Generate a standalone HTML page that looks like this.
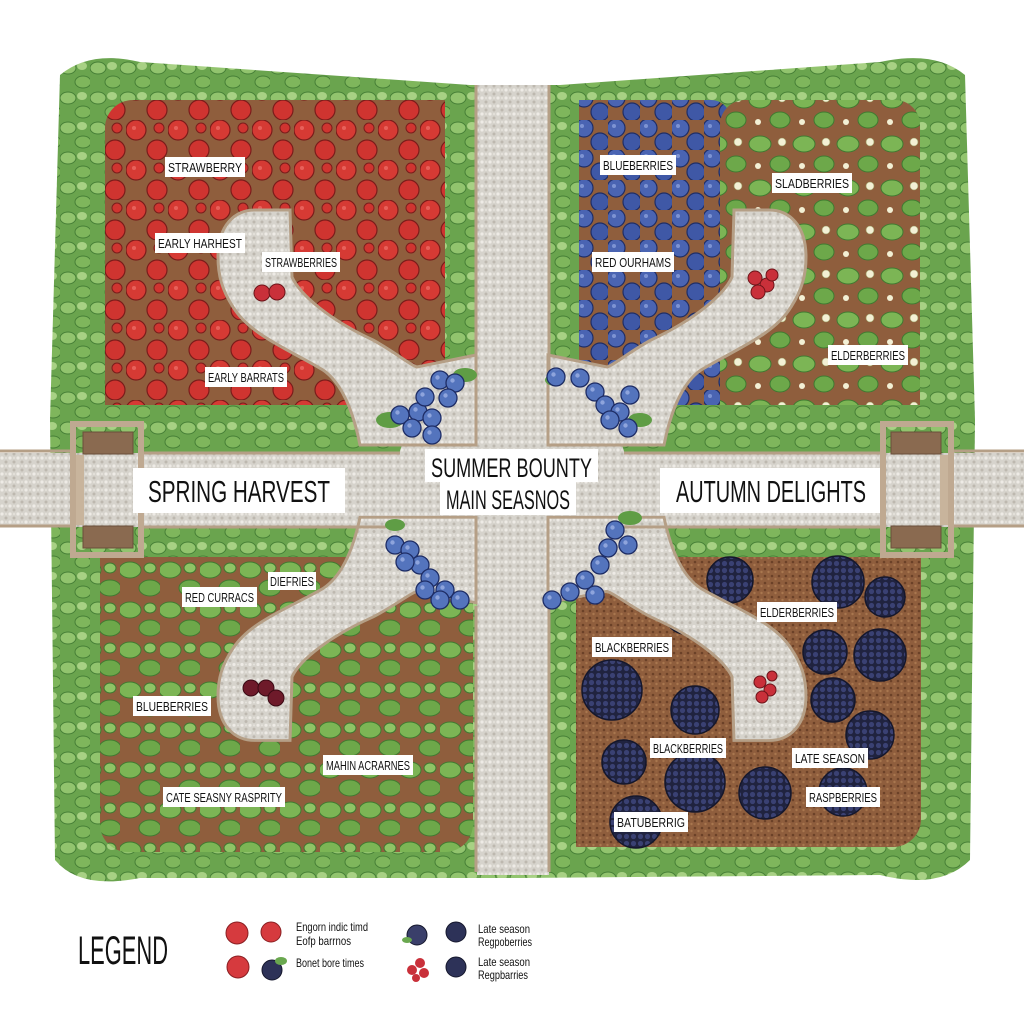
<!DOCTYPE html>
<html><head><meta charset="utf-8"><style>
html,body{margin:0;padding:0;background:#fff;}
svg{display:block;}
.t{font-family:"Liberation Sans Narrow","Liberation Sans",sans-serif;fill:#111;}
</style></head><body>
<svg width="1024" height="1024" viewBox="0 0 1024 1024" xmlns="http://www.w3.org/2000/svg">
<defs>
<pattern id="soil" width="7" height="7" patternUnits="userSpaceOnUse"><rect width="7" height="7" fill="#8f5e3d"/><circle cx="2" cy="2" r="1.3" fill="#6b4128"/><circle cx="5.5" cy="5" r="1.2" fill="#a9774f"/></pattern>
<pattern id="grav" width="8" height="8" patternUnits="userSpaceOnUse"><rect width="8" height="8" fill="#d6d3cc"/><circle cx="2" cy="2" r="1.6" fill="#eeebe6"/><circle cx="6" cy="6" r="1.5" fill="#bdb8af"/><circle cx="6" cy="2" r="1" fill="#e6e3dd"/></pattern>
<pattern id="hedge" width="30" height="30" patternUnits="userSpaceOnUse"><rect width="30" height="30" fill="#6aa44e"/><ellipse cx="8" cy="8" rx="8" ry="6" fill="#92c46e" stroke="#467f36" stroke-width="1"/><ellipse cx="23" cy="22" rx="8" ry="6" fill="#7fb65c" stroke="#467f36" stroke-width="1"/><ellipse cx="22" cy="6" rx="5" ry="4" fill="#a8d184"/></pattern>
<pattern id="leaf" width="40" height="40" patternUnits="userSpaceOnUse"><rect width="40" height="40" fill="#8f5e3d"/><ellipse cx="10" cy="10" rx="11" ry="8" fill="#7cb555" stroke="#3f7a30"/><ellipse cx="30" cy="28" rx="11" ry="8" fill="#6da84a" stroke="#3f7a30"/><ellipse cx="30" cy="8" rx="6" ry="5" fill="#8fc466" stroke="#3f7a30"/></pattern>
<pattern id="leafF" width="44" height="44" patternUnits="userSpaceOnUse"><rect width="44" height="44" fill="#8f5e3d"/><ellipse cx="12" cy="12" rx="11" ry="8" fill="#7cb555" stroke="#3f7a30"/><ellipse cx="32" cy="32" rx="10" ry="8" fill="#6da84a" stroke="#3f7a30"/><circle cx="34" cy="10" r="4" fill="#f3f0d5" stroke="#9a9a60" stroke-width=".6"/><circle cx="10" cy="34" r="3" fill="#f3f0d5"/></pattern>
<pattern id="straw" width="42" height="40" patternUnits="userSpaceOnUse"><rect width="42" height="40" fill="#8f5e3d"/><circle cx="10" cy="10" r="10" fill="#d63a34" stroke="#7a1c1a" stroke-width="1.2"/><circle cx="31" cy="30" r="10" fill="#cf3430" stroke="#7a1c1a" stroke-width="1.2"/><circle cx="33" cy="8" r="5" fill="#cf3430" stroke="#7a1c1a"/><circle cx="8" cy="8" r="2" fill="#e8605a"/></pattern>
<pattern id="blue" width="32" height="30" patternUnits="userSpaceOnUse"><rect width="32" height="30" fill="#8f5e3d"/><circle cx="8" cy="8" r="9" fill="#4a64b2" stroke="#1e2d66" stroke-width="1.2"/><circle cx="24" cy="22" r="9" fill="#3f58a6" stroke="#1e2d66" stroke-width="1.2"/><circle cx="6" cy="6" r="2" fill="#7d93d3"/></pattern>
<pattern id="bdot" width="7" height="7" patternUnits="userSpaceOnUse"><rect width="7" height="7" fill="#20233f"/><circle cx="3.5" cy="3.5" r="2.6" fill="#3a4173"/></pattern>
<g id="gpath"><path d="M 218 257 C 218 225, 235 210, 255 210 L 290 210 L 292 277 C 300 295, 330 320, 373 340 C 395 352, 410 365, 417 367 L 476 355 L 476 445 L 360 445 C 355 420, 345 385, 323 370 C 290 350, 250 335, 233 307 C 222 290, 218 275, 218 257 Z" fill="url(#grav)" stroke="#b59f86" stroke-width="3"/></g>
<g id="bb"><circle cx="0" cy="0" r="9" fill="#5474bd" stroke="#1e2d66" stroke-width="1.3"/><circle cx="-2.5" cy="-2.5" r="2.2" fill="#8ea4dc"/></g>
</defs>
<rect width="1024" height="1024" fill="#fff"/>
<path d="M 60 75 Q 90 50 140 62 L 470 85 L 560 85 L 880 62 Q 935 50 965 75 L 975 420 L 970 860 Q 940 890 880 875 L 520 878 L 140 878 Q 80 890 55 860 L 50 420 Z" fill="url(#hedge)"/>
<rect x="105" y="100" width="368" height="340" rx="28" fill="url(#straw)"/>
<rect x="100" y="405" width="373" height="35" fill="url(#hedge)"/>
<rect x="445" y="100" width="28" height="340" fill="url(#hedge)"/>
<rect x="551" y="100" width="180" height="335" rx="20" fill="url(#blue)"/>
<rect x="720" y="100" width="200" height="335" rx="25" fill="url(#leafF)"/>
<rect x="551" y="100" width="28" height="335" fill="url(#hedge)"/>
<rect x="551" y="405" width="370" height="30" fill="url(#hedge)"/>
<rect x="100" y="527" width="373" height="325" rx="28" fill="url(#leaf)"/>
<rect x="100" y="527" width="373" height="30" fill="url(#hedge)"/>
<rect x="551" y="527" width="370" height="320" rx="28" fill="url(#soil)"/>
<rect x="551" y="527" width="370" height="30" fill="url(#hedge)"/>
<rect x="551" y="527" width="25" height="320" fill="url(#hedge)"/>
<g fill="url(#bdot)" stroke="#15172c" stroke-width="1.5">
<circle cx="730" cy="580" r="23"/><circle cx="838" cy="582" r="26"/><circle cx="885" cy="597" r="20"/><circle cx="686" cy="612" r="22"/><circle cx="825" cy="652" r="22"/><circle cx="880" cy="655" r="26"/><circle cx="833" cy="700" r="22"/><circle cx="870" cy="735" r="24"/><circle cx="612" cy="690" r="30"/><circle cx="695" cy="710" r="24"/><circle cx="624" cy="762" r="22"/><circle cx="695" cy="782" r="30"/><circle cx="765" cy="793" r="26"/><circle cx="843" cy="792" r="24"/><circle cx="636" cy="822" r="26"/>
</g>
<rect x="0" y="453" width="1024" height="74" fill="url(#grav)"/>
<rect x="477" y="85" width="72" height="790" fill="url(#grav)"/>
<circle cx="512" cy="488" r="118" fill="url(#grav)"/>
<use href="#gpath"/>
<use href="#gpath" transform="matrix(-1,0,0,1,1024,0)"/>
<use href="#gpath" transform="matrix(1,0,0,-0.95,0,940)"/>
<use href="#gpath" transform="matrix(-1,0,0,-0.95,1024,940)"/>
<g stroke="#b59f86" stroke-width="3" fill="none">
<line x1="0" y1="451" x2="75" y2="451"/><line x1="0" y1="526" x2="75" y2="526"/>
<line x1="950" y1="451" x2="1024" y2="451"/><line x1="950" y1="526" x2="1024" y2="526"/>
<line x1="140" y1="453" x2="400" y2="453"/><line x1="140" y1="527" x2="400" y2="527"/>
<line x1="624" y1="453" x2="885" y2="453"/><line x1="624" y1="527" x2="885" y2="527"/>
<line x1="476" y1="85" x2="476" y2="370"/><line x1="549" y1="85" x2="549" y2="370"/>
<line x1="476" y1="606" x2="476" y2="872"/><line x1="549" y1="606" x2="549" y2="872"/>
</g>
<g>
<rect x="73" y="424" width="68" height="131" fill="none" stroke="#bfa991" stroke-width="6"/>
<rect x="83" y="432" width="50" height="22" fill="#8a6a50" stroke="#6b4f3a"/>
<rect x="83" y="526" width="50" height="22" fill="#8a6a50" stroke="#6b4f3a"/>
<rect x="76" y="455" width="8" height="70" fill="#c8b49c"/>
<rect x="883" y="424" width="68" height="131" fill="none" stroke="#bfa991" stroke-width="6"/>
<rect x="891" y="432" width="50" height="22" fill="#8a6a50" stroke="#6b4f3a"/>
<rect x="891" y="526" width="50" height="22" fill="#8a6a50" stroke="#6b4f3a"/>
<rect x="940" y="455" width="8" height="70" fill="#c8b49c"/>
</g>
<g>
<ellipse cx="390" cy="420" rx="14" ry="8" fill="#5f9d45"/><ellipse cx="465" cy="375" rx="12" ry="7" fill="#5f9d45"/>
<use href="#bb" x="400" y="415"/><use href="#bb" x="418" y="412"/><use href="#bb" x="432" y="418"/><use href="#bb" x="412" y="428"/><use href="#bb" x="425" y="397"/><use href="#bb" x="440" y="380"/><use href="#bb" x="455" y="383"/><use href="#bb" x="448" y="398"/><use href="#bb" x="432" y="435"/>
<ellipse cx="640" cy="420" rx="12" ry="7" fill="#5f9d45"/><ellipse cx="555" cy="380" rx="10" ry="6" fill="#5f9d45"/>
<use href="#bb" x="556" y="377"/><use href="#bb" x="580" y="378"/><use href="#bb" x="595" y="392"/><use href="#bb" x="605" y="405"/><use href="#bb" x="620" y="412"/><use href="#bb" x="628" y="428"/><use href="#bb" x="610" y="420"/><use href="#bb" x="630" y="395"/>
<ellipse cx="395" cy="525" rx="10" ry="6" fill="#5f9d45"/><ellipse cx="630" cy="518" rx="12" ry="7" fill="#5f9d45"/>
<use href="#bb" x="395" y="545"/><use href="#bb" x="410" y="550"/><use href="#bb" x="420" y="565"/><use href="#bb" x="405" y="562"/><use href="#bb" x="430" y="578"/><use href="#bb" x="445" y="590"/><use href="#bb" x="460" y="600"/><use href="#bb" x="440" y="600"/><use href="#bb" x="425" y="590"/>
<use href="#bb" x="615" y="530"/><use href="#bb" x="628" y="545"/><use href="#bb" x="608" y="548"/><use href="#bb" x="600" y="565"/><use href="#bb" x="585" y="580"/><use href="#bb" x="570" y="592"/><use href="#bb" x="595" y="595"/><use href="#bb" x="552" y="600"/>
</g>
<g fill="#c9303a" stroke="#6e1419">
<circle cx="262" cy="293" r="8"/><circle cx="277" cy="292" r="8"/>
<circle cx="755" cy="278" r="7"/><circle cx="767" cy="285" r="7"/><circle cx="758" cy="292" r="7"/><circle cx="772" cy="275" r="6"/>
<circle cx="760" cy="682" r="6"/><circle cx="770" cy="690" r="6"/><circle cx="762" cy="697" r="6"/><circle cx="772" cy="676" r="5"/>
</g>
<g fill="#6e1a2a" stroke="#3a0a14"><circle cx="251" cy="688" r="8"/><circle cx="266" cy="688" r="8"/><circle cx="276" cy="698" r="8"/></g>
<g class="t">
<rect x="133" y="468" width="212" height="45" fill="#fff"/><text x="148" y="502" font-size="31" textLength="182" lengthAdjust="spacingAndGlyphs">SPRING HARVEST</text>
<rect x="660" y="468" width="220" height="45" fill="#fff"/><text x="676" y="502" font-size="31" textLength="190" lengthAdjust="spacingAndGlyphs">AUTUMN DELIGHTS</text>
<rect x="425" y="449" width="173" height="33" fill="#fff"/><text x="431" y="477" font-size="27" textLength="161" lengthAdjust="spacingAndGlyphs">SUMMER BOUNTY</text>
<rect x="440" y="482" width="136" height="33" fill="#fff"/><text x="446" y="509" font-size="27" textLength="124" lengthAdjust="spacingAndGlyphs">MAIN SEASNOS</text>
</g>
<g class="t" font-size="13">
<rect x="165" y="157" width="80" height="20" fill="#fff"/><text x="168" y="172" textLength="74" lengthAdjust="spacingAndGlyphs">STRAWBERRY</text>
<rect x="155" y="233" width="90" height="20" fill="#fff"/><text x="158" y="248" textLength="84" lengthAdjust="spacingAndGlyphs">EARLY HARHEST</text>
<rect x="262" y="252" width="78" height="20" fill="#fff"/><text x="265" y="267" textLength="72" lengthAdjust="spacingAndGlyphs">STRAWBERRIES</text>
<rect x="205" y="367" width="82" height="20" fill="#fff"/><text x="208" y="382" textLength="76" lengthAdjust="spacingAndGlyphs">EARLY BARRATS</text>
<rect x="600" y="155" width="76" height="20" fill="#fff"/><text x="603" y="170" textLength="70" lengthAdjust="spacingAndGlyphs">BLUEBERRIES</text>
<rect x="772" y="173" width="80" height="20" fill="#fff"/><text x="775" y="188" textLength="74" lengthAdjust="spacingAndGlyphs">SLADBERRIES</text>
<rect x="592" y="252" width="82" height="20" fill="#fff"/><text x="595" y="267" textLength="76" lengthAdjust="spacingAndGlyphs">RED OURHAMS</text>
<rect x="828" y="345" width="80" height="20" fill="#fff"/><text x="831" y="360" textLength="74" lengthAdjust="spacingAndGlyphs">ELDERBERRIES</text>
<rect x="182" y="587" width="75" height="20" fill="#fff"/><text x="185" y="602" textLength="69" lengthAdjust="spacingAndGlyphs">RED CURRACS</text>
<rect x="268" y="572" width="48" height="18" fill="#fff"/><text x="270" y="586" textLength="44" lengthAdjust="spacingAndGlyphs">DIEFRIES</text>
<rect x="133" y="696" width="78" height="20" fill="#fff"/><text x="136" y="711" textLength="72" lengthAdjust="spacingAndGlyphs">BLUEBERRIES</text>
<rect x="163" y="787" width="122" height="20" fill="#fff"/><text x="166" y="802" textLength="116" lengthAdjust="spacingAndGlyphs">CATE SEASNY RASPRITY</text>
<rect x="323" y="755" width="90" height="20" fill="#fff"/><text x="326" y="770" textLength="84" lengthAdjust="spacingAndGlyphs">MAHIN ACRARNES</text>
<rect x="757" y="602" width="80" height="20" fill="#fff"/><text x="760" y="617" textLength="74" lengthAdjust="spacingAndGlyphs">ELDERBERRIES</text>
<rect x="592" y="637" width="80" height="20" fill="#fff"/><text x="595" y="652" textLength="74" lengthAdjust="spacingAndGlyphs">BLACKBERRIES</text>
<rect x="650" y="738" width="76" height="20" fill="#fff"/><text x="653" y="753" textLength="70" lengthAdjust="spacingAndGlyphs">BLACKBERRIES</text>
<rect x="792" y="748" width="76" height="20" fill="#fff"/><text x="795" y="763" textLength="70" lengthAdjust="spacingAndGlyphs">LATE SEASON</text>
<rect x="806" y="787" width="74" height="20" fill="#fff"/><text x="809" y="802" textLength="68" lengthAdjust="spacingAndGlyphs">RASPBERRIES</text>
<rect x="614" y="812" width="74" height="20" fill="#fff"/><text x="617" y="827" textLength="68" lengthAdjust="spacingAndGlyphs">BATUBERRIG</text>
</g>
<text class="t" x="78" y="964" font-size="40" textLength="90" lengthAdjust="spacingAndGlyphs">LEGEND</text>
<g stroke-width="1">
<circle cx="237" cy="933" r="11" fill="#d63a3e" stroke="#8a1f22"/><circle cx="271" cy="932" r="10" fill="#d63a3e" stroke="#8a1f22"/>
<circle cx="238" cy="967" r="11" fill="#d63a3e" stroke="#8a1f22"/><circle cx="272" cy="970" r="10" fill="#2d3258" stroke="#15172c"/>
<ellipse cx="281" cy="961" rx="6" ry="4" fill="#6aa84f"/>
<circle cx="417" cy="935" r="10" fill="#3a3f6a" stroke="#15172c"/><ellipse cx="407" cy="940" rx="5" ry="3" fill="#6aa84f"/>
<circle cx="456" cy="932" r="10" fill="#2d3258" stroke="#15172c"/>
<circle cx="412" cy="970" r="5" fill="#c9303a"/><circle cx="420" cy="963" r="5" fill="#c9303a"/><circle cx="424" cy="973" r="5" fill="#c9303a"/><circle cx="416" cy="978" r="4" fill="#c9303a"/>
<circle cx="456" cy="967" r="10" fill="#2d3258" stroke="#15172c"/>
</g>
<g class="t" font-size="12">
<text x="296" y="931" textLength="72" lengthAdjust="spacingAndGlyphs">Engorn indic timd</text>
<text x="296" y="945" textLength="55" lengthAdjust="spacingAndGlyphs">Eofp barrnos</text>
<text x="296" y="967" textLength="68" lengthAdjust="spacingAndGlyphs">Bonet bore times</text>
<text x="478" y="933" textLength="52" lengthAdjust="spacingAndGlyphs">Late season</text>
<text x="478" y="946" textLength="54" lengthAdjust="spacingAndGlyphs">Regpoberries</text>
<text x="478" y="966" textLength="52" lengthAdjust="spacingAndGlyphs">Late season</text>
<text x="478" y="979" textLength="50" lengthAdjust="spacingAndGlyphs">Regpbarries</text>
</g>
</svg>
</body></html>
